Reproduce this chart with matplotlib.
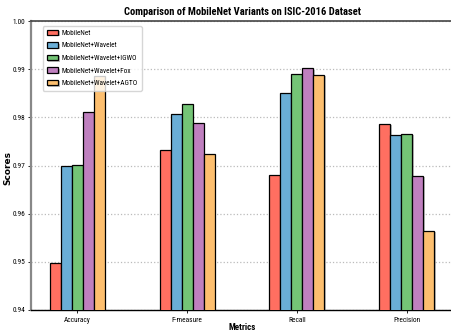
import numpy as np
import matplotlib
matplotlib.use("Agg")
import matplotlib.pyplot as plt
import matplotlib.patheffects as pe
from matplotlib import font_manager

# narrow font if one is around, the reference text looks squashed
installed = set(f.name for f in font_manager.fontManager.ttflist)
narrow = "DejaVu Sans"
for cand in ["Liberation Sans Narrow", "Roboto Condensed", "Archivo Narrow",
             "PT Sans Narrow", "Open Sans Condensed", "Encode Sans Condensed"]:
    if cand in installed:
        narrow = cand
        break
plt.rcParams["font.family"] = [narrow, "DejaVu Sans"]

metrics = ["Accuracy", "F-measure", "Recall", "Precision"]
models = ["MobileNet", "MobileNet+Wavelet", "MobileNet+Wavelet+IGWO",
          "MobileNet+Wavelet+Fox", "MobileNet+Wavelet+AGTO"]
mobilenet = [0.9497, 0.9733, 0.9681, 0.9787]
wavelet = [0.9700, 0.9806, 0.9850, 0.9763]
igwo = [0.9702, 0.9827, 0.9890, 0.9766]
fox = [0.9811, 0.9788, 0.9902, 0.9678]
agto = [0.9885, 0.9723, 0.9888, 0.9565]
colors = ["#FF6F61", "#6AAED6", "#74C476", "#BF80BF", "#FDBF6F"]

series = [mobilenet, wavelet, igwo, fox, agto]

fig = plt.figure(figsize=(4.51, 3.34), dpi=100)
ax = fig.add_axes([31 / 451, 24 / 334, 422 / 451, 289 / 334])

x = np.arange(len(metrics))
w = 0.1
shadow = [pe.SimplePatchShadow(offset=(1, -1), shadow_rgbFace="gray", alpha=0.5), pe.Normal()]
for i, (vals, name) in enumerate(zip(series, models)):
    bars = ax.bar(x + (i - 2) * w, vals, w, label=name, color=colors[i],
                  edgecolor="black", linewidth=0.9, zorder=3)
    for b in bars:
        b.set_path_effects(shadow)

ax.set_xlim(-0.42, 3.42)
ax.set_ylim(0.94, 1.00)
ax.set_yticks(np.arange(0.94, 1.001, 0.01))
ax.set_xticks(x)
ax.set_xticklabels(metrics, fontsize=5.3)
ax.tick_params(axis="y", labelsize=5.3, length=2, width=0.6, pad=2)
ax.tick_params(axis="x", length=2, width=0.6, pad=3)
ax.yaxis.grid(True, linestyle=":", color="#bbbbbb", linewidth=0.9, zorder=0)

ax.spines["left"].set_color("#888888")
ax.spines["left"].set_linewidth(1.6)
ax.spines["top"].set_color("#444444")
ax.spines["top"].set_linewidth(1.2)
ax.spines["bottom"].set_linewidth(1.0)

ax.set_title("Comparison of MobileNet Variants on ISIC-2016 Dataset",
             fontsize=7.6, fontweight="bold", pad=4)
fig.text(8 / 451, 1 - 168 / 334, "Scores", rotation=90, ha="center", va="center",
         fontsize=6.5, fontweight="bold", family="DejaVu Sans")
fig.text(242 / 451, 1 - 328 / 334, "Metrics", ha="center", va="center",
         fontsize=6.5, fontweight="bold")

ax.legend(loc="upper left", bbox_to_anchor=(0.02, 0.995), fontsize=5.2,
          framealpha=0.8, handlelength=1.6, handleheight=0.75,
          borderpad=0.5, labelspacing=0.75, handletextpad=0.5)

fig.savefig("out.png", dpi=100)
